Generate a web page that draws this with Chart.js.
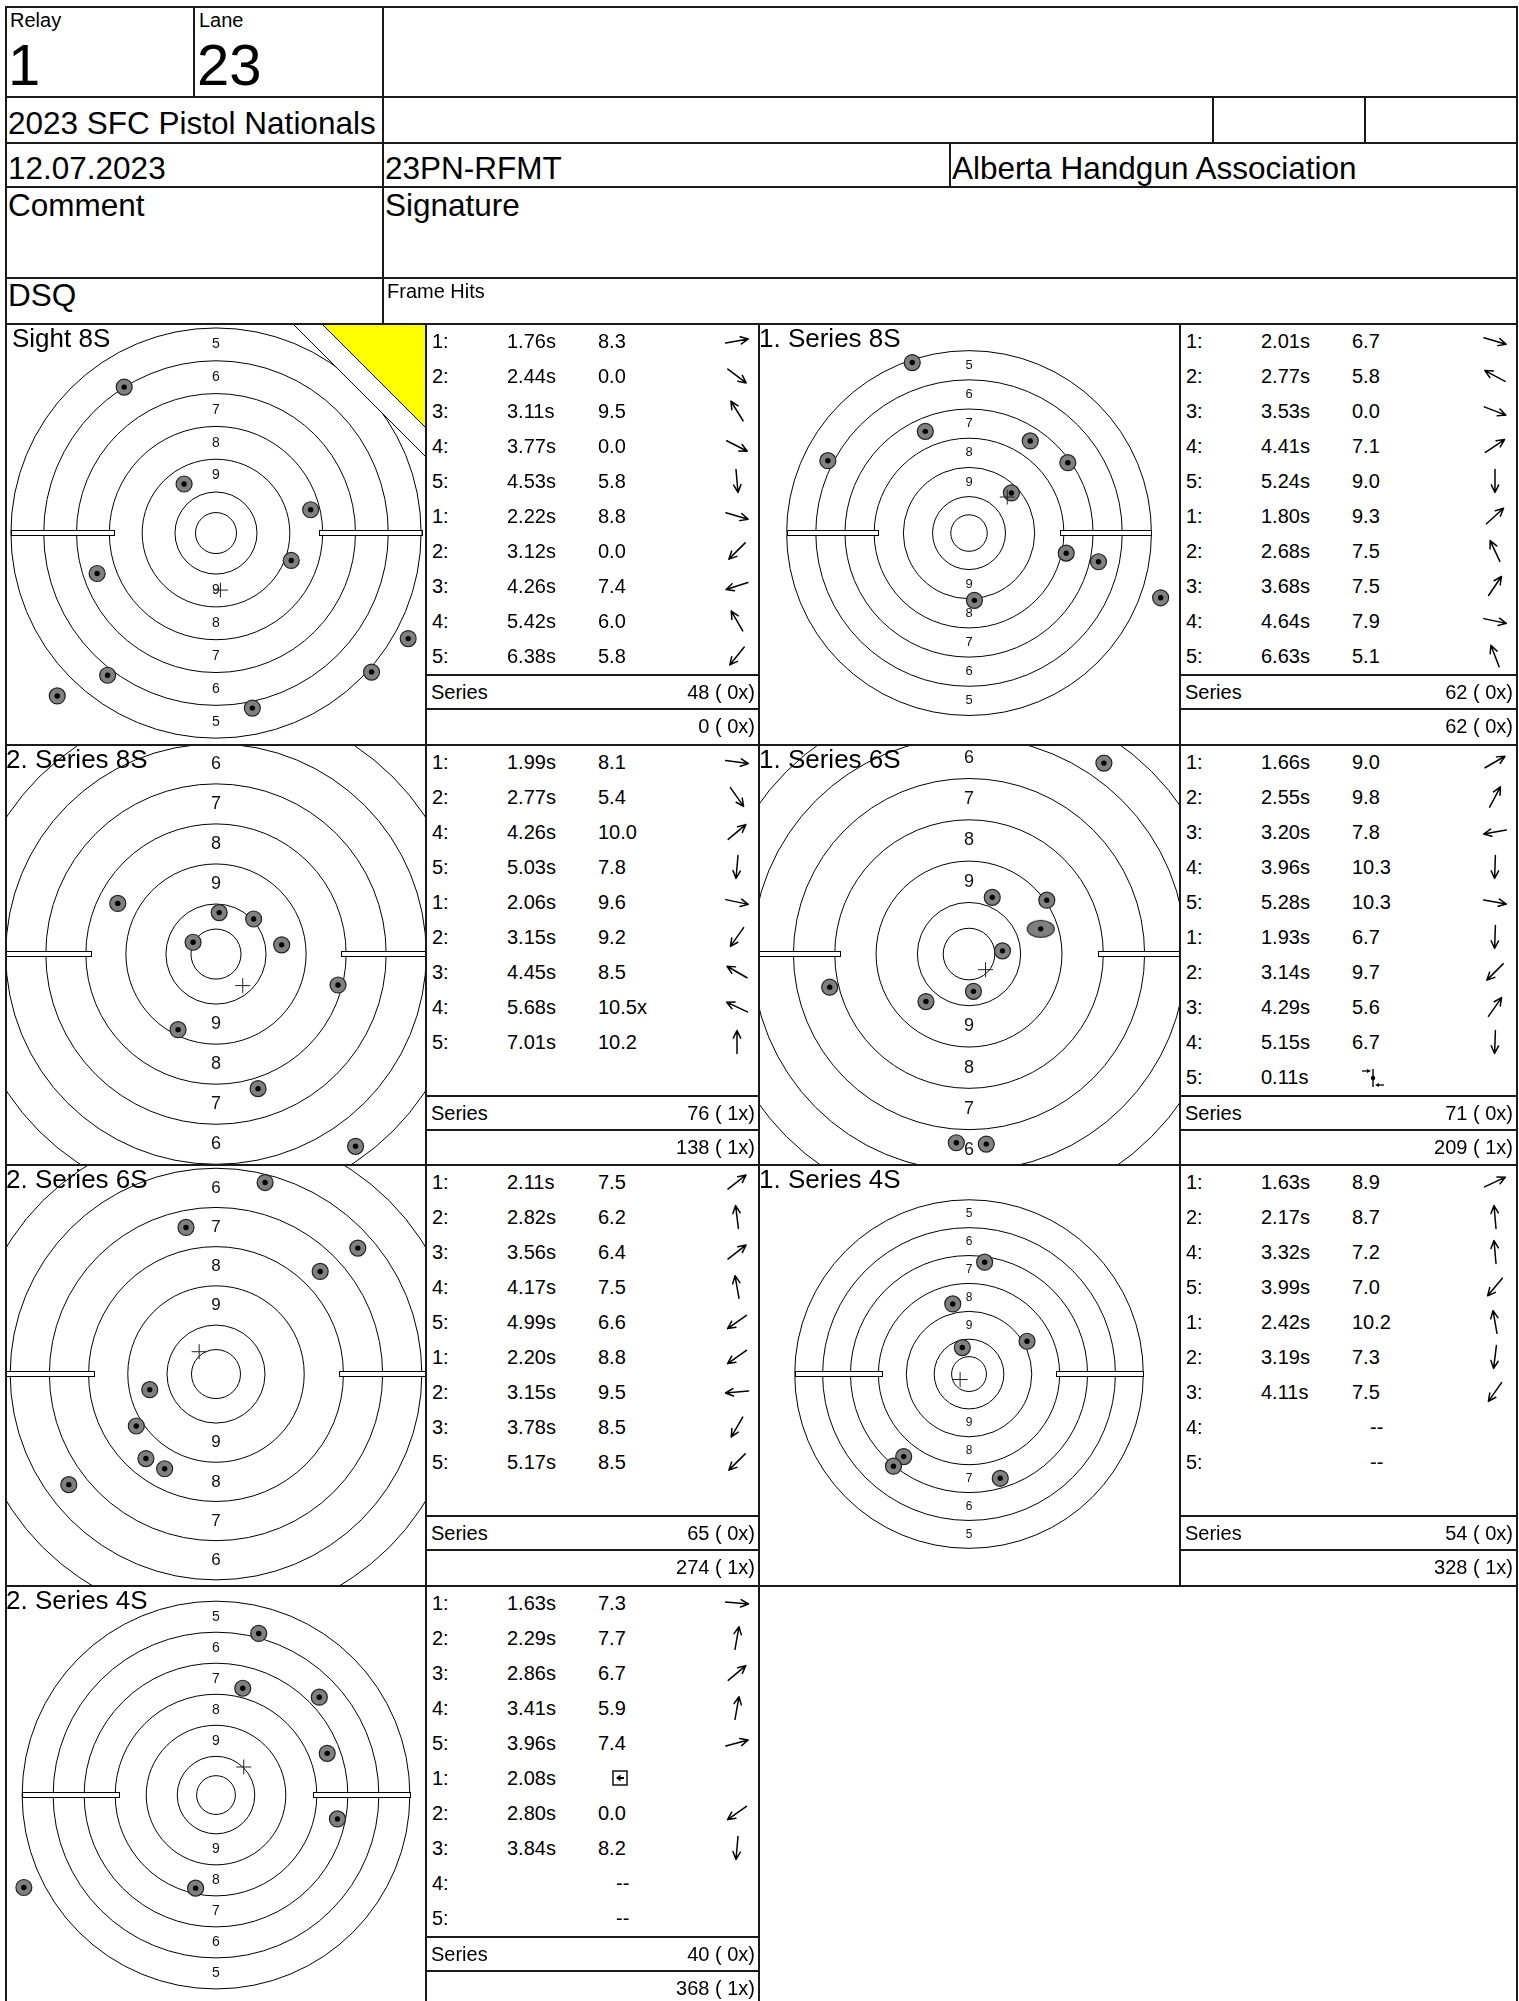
<!DOCTYPE html>
<html>
<head>
<meta charset="utf-8">
<script src="https://cdn.jsdelivr.net/npm/chart.js@4.4.0/dist/chart.umd.min.js"></script>
<style>
  body { margin: 0; background: #fff; }
  #page { position: relative; width: 1519px; height: 2001px; overflow: hidden;
          font-family: "Liberation Sans", Arial, sans-serif; color: #000; }
  .t { position: absolute; white-space: pre; z-index: 3; }
  .ln { position: absolute; background: #1a1a1a; z-index: 2; }
  canvas.tg { position: absolute; z-index: 1; }
  svg.ic { position: absolute; z-index: 3; overflow: visible; }
</style>
</head>
<body>
<div id="page"></div>
<script>
// scorecard.js

/********** Data **********/
// ring radii of the target face in mm (inner ten, 10, 9 ... 5)
const ringRadii = [25, 50, 90, 130, 170, 210, 250];
const ringLabels = ['9', '8', '7', '6', '5'];
const ringLabelRadii = [70, 110, 150, 190, 230];
const barInner = 125;
const barOuter = 250;

const targetTitles = ['Sight 8S', '1. Series 8S', '2. Series 8S', '1. Series 6S', '2. Series 6S', '1. Series 4S', '2. Series 4S'];
const targetZoom = [0.858, 0.763, 1.047, 1.08, 1.025, 0.729, 0.811]; // px per mm

// shot positions, mm from centre (x right, y up)
const shotsSight8 = [[-111.9, 177.9], [-38.9, 59.8], [115.4, 28.4], [91.7, -33.4], [-144.9, -49.3],
  [-132.1, -173.3], [-193.5, -198.5], [44.3, -213.3], [189.6, -169.4], [234.3, -128.6]];
const centerSight8 = [5.4, -69.5];

const shots1S8 = [[-77.8, 233.7], [-59.9, 139.4], [83.9, 126.3], [135.4, 96.5], [-193.5, 99.2],
  [58.1, 55.0], [133.2, -27.5], [177.4, -39.3], [7.4, -92.2], [262.6, -88.7]];
const center1S8 = [52.4, 49.4];

const shots2S8 = [[-98.1, 50.6], [3.2, 41.4], [37.6, 35.0], [-22.9, 11.8], [65.6, 9.2],
  [121.9, -30.9], [-37.9, -75.5], [42.0, -134.4], [139.4, -192.0]];
const center2S8 = [26.7, -31.5];

const shots1S6 = [[130.6, 184.9], [22.5, 54.9], [75.3, 52.2], [69.4, 24.4], [32.4, 3.1],
  [-134.9, -32.1], [4.3, -36.1], [-41.7, -46.0], [-12.3, -182.7], [16.7, -184.0]];
const center1S6 = [16.0, -15.1];
const elongated1S6 = [3]; // torn (oval) hole

const shots2S6 = [[50.1, 195.4], [-30.6, 149.6], [144.7, 128.5], [106.3, 104.7], [-67.6, -15.9],
  [-81.3, -53.0], [-71.5, -86.2], [-52.4, -96.6], [-150.2, -112.8]];
const center2S6 = [-17.2, 22.8];

const shots1S4 = [[22.4, 160.5], [-23.3, 100.6], [83.2, 47.1], [-9.6, 38.0], [-93.7, -118.4],
  [-108.4, -132.1], [44.8, -149.5]];
const center1S4 = [-12.8, -7.8];

const shots2S4 = [[55.1, 208.4], [34.5, 137.7], [133.2, 126.2], [143.4, 53.8], [156.6, -30.8],
  [-26.3, -120.0], [-247.8, -119.2]];
const center2S4 = [35.8, 36.2];

// table rows: shot no, time, score, direction of arrow (degrees, 0 = right)
const rowsSight8 = [
  ['1:', '1.76s', '8.3', 10], ['2:', '2.44s', '0.0', -37], ['3:', '3.11s', '9.5', 122],
  ['4:', '3.77s', '0.0', -27], ['5:', '4.53s', '5.8', -85], ['1:', '2.22s', '8.8', -16],
  ['2:', '3.12s', '0.0', 225], ['3:', '4.26s', '7.4', 198], ['4:', '5.42s', '6.0', 120],
  ['5:', '6.38s', '5.8', 231]
];
const rows1S8 = [
  ['1:', '2.01s', '6.7', -16], ['2:', '2.77s', '5.8', 152], ['3:', '3.53s', '0.0', -21],
  ['4:', '4.41s', '7.1', 34], ['5:', '5.24s', '9.0', -90], ['1:', '1.80s', '9.3', 42],
  ['2:', '2.68s', '7.5', 115], ['3:', '3.68s', '7.5', 56], ['4:', '4.64s', '7.9', -12],
  ['5:', '6.63s', '5.1', 111]
];
const rows2S8 = [
  ['1:', '1.99s', '8.1', -8], ['2:', '2.77s', '5.4', -55], ['4:', '4.26s', '10.0', 40],
  ['5:', '5.03s', '7.8', -95], ['1:', '2.06s', '9.6', -12], ['2:', '3.15s', '9.2', 235],
  ['3:', '4.45s', '8.5', 150], ['4:', '5.68s', '10.5x', 155], ['5:', '7.01s', '10.2', 90]
];
const rows1S6 = [
  ['1:', '1.66s', '9.0', 30], ['2:', '2.55s', '9.8', 62], ['3:', '3.20s', '7.8', 190],
  ['4:', '3.96s', '10.3', -92], ['5:', '5.28s', '10.3', -10], ['1:', '1.93s', '6.7', -92],
  ['2:', '3.14s', '9.7', 225], ['3:', '4.29s', '5.6', 55], ['4:', '5.15s', '6.7', -92],
  ['5:', '0.11s', '#split', null]
];
const rows2S6 = [
  ['1:', '2.11s', '7.5', 38], ['2:', '2.82s', '6.2', 97], ['3:', '3.56s', '6.4', 38],
  ['4:', '4.17s', '7.5', 100], ['5:', '4.99s', '6.6', 215], ['1:', '2.20s', '8.8', 215],
  ['2:', '3.15s', '9.5', 185], ['3:', '3.78s', '8.5', 240], ['5:', '5.17s', '8.5', 225]
];
const rows1S4 = [
  ['1:', '1.63s', '8.9', 25], ['2:', '2.17s', '8.7', 95], ['4:', '3.32s', '7.2', 95],
  ['5:', '3.99s', '7.0', 230], ['1:', '2.42s', '10.2', 100], ['2:', '3.19s', '7.3', -97],
  ['3:', '4.11s', '7.5', 235], ['4:', '', '--', null], ['5:', '', '--', null]
];
const rows2S4 = [
  ['1:', '1.63s', '7.3', -5], ['2:', '2.29s', '7.7', 80], ['3:', '2.86s', '6.7', 40],
  ['4:', '3.41s', '5.9', 80], ['5:', '3.96s', '7.4', 15], ['1:', '2.08s', '#box', null],
  ['2:', '2.80s', '0.0', 215], ['3:', '3.84s', '8.2', -95], ['4:', '', '--', null],
  ['5:', '', '--', null]
];

const seriesTotals = ['48 ( 0x)', '62 ( 0x)', '76 ( 1x)', '71 ( 0x)', '65 ( 0x)', '54 ( 0x)', '40 ( 0x)'];
const runningTotals = ['0 ( 0x)', '62 ( 0x)', '138 ( 1x)', '209 ( 1x)', '274 ( 1x)', '328 ( 1x)', '368 ( 1x)'];

/********** Helpers **********/
const page = document.getElementById('page');
const FONT = '"Liberation Sans", Arial, sans-serif';

function text(x, base, size, str, align) {
  const d = document.createElement('div');
  d.className = 't';
  d.style.fontSize = size + 'px';
  d.style.lineHeight = size + 'px';
  d.style.top = (base - 0.8465 * size) + 'px';
  if (align === 'right') d.style.right = (1519 - x) + 'px';
  else d.style.left = x + 'px';
  d.textContent = str;
  page.appendChild(d);
}

function box(x, y, w, h) {
  const d = document.createElement('div');
  d.className = 'ln';
  d.style.left = x + 'px'; d.style.top = y + 'px';
  d.style.width = w + 'px'; d.style.height = h + 'px';
  page.appendChild(d);
}
const hl = (x1, x2, y, t = 2) => box(x1 - 1, y - t / 2, x2 - x1 + 2, t);
const vl = (x, y1, y2, t = 2) => box(x - t / 2, y1 - 1, t, y2 - y1 + 2);

function svgAt(cx, cy, w, h, inner) {
  const ns = 'http://www.w3.org/2000/svg';
  const s = document.createElementNS(ns, 'svg');
  s.setAttribute('class', 'ic');
  s.setAttribute('width', w); s.setAttribute('height', h);
  s.style.left = (cx - w / 2) + 'px'; s.style.top = (cy - h / 2) + 'px';
  s.innerHTML = inner;
  page.appendChild(s);
}

function arrow(cx, cy, deg) {
  const a = deg * Math.PI / 180, L = 11.5, hd = 8.5, sp = 0.45;
  const c = 13;
  const hx = c + L * Math.cos(a), hy = c - L * Math.sin(a);
  const tx = c - L * Math.cos(a), ty = c + L * Math.sin(a);
  const p1 = [hx + hd * Math.cos(a + Math.PI - sp), hy - hd * Math.sin(a + Math.PI - sp)];
  const p2 = [hx + hd * Math.cos(a + Math.PI + sp), hy - hd * Math.sin(a + Math.PI + sp)];
  svgAt(cx, cy, 26, 26,
    `<path d="M${tx} ${ty}L${hx} ${hy}M${p1[0]} ${p1[1]}L${hx} ${hy}L${p2[0]} ${p2[1]}" stroke="#000" stroke-width="1.5" fill="none" stroke-linecap="round" stroke-linejoin="round"/>`);
}

function splitIcon(cx, cy) {
  svgAt(cx, cy, 26, 20,
    '<path d="M13 1V19" stroke="#000" stroke-width="1.4"/>' +
    '<circle cx="13" cy="10" r="2.2" fill="#000"/>' +
    '<path d="M2 3H8" stroke="#000" stroke-width="1.3"/><path d="M11 3L7 1L7 5Z" fill="#000"/>' +
    '<path d="M24 17H18" stroke="#000" stroke-width="1.3"/><path d="M15 17L19 15L19 19Z" fill="#000"/>');
}

function boxIcon(cx, cy) {
  svgAt(cx, cy, 16, 16,
    '<rect x="1" y="1" width="14" height="14" fill="none" stroke="#000" stroke-width="1.4"/>' +
    '<path d="M4 8L8.5 4.5V11.5Z" fill="#000"/><path d="M8 8H12" stroke="#000" stroke-width="2"/>');
}

function ovalImage() {
  const c = document.createElement('canvas');
  c.width = 30; c.height = 20;
  const g = c.getContext('2d');
  g.beginPath();
  g.ellipse(15, 10, 13.5, 8.5, 0, 0, Math.PI * 2);
  g.fillStyle = '#808080'; g.fill();
  g.strokeStyle = '#222'; g.lineWidth = 1.2; g.stroke();
  return c;
}

/********** Target face plugin **********/
const targetFace = {
  id: 'targetFace',
  beforeDatasetsDraw(chart) {
    const { ctx, scales: { x, y } } = chart;
    const o = chart.options.plugins.targetFace;
    const cx = x.getPixelForValue(0), cy = y.getPixelForValue(0);
    const k = x.getPixelForValue(1) - cx;
    ctx.save();
    ctx.strokeStyle = '#000';
    ctx.lineWidth = 1;
    ringRadii.forEach(r => {
      ctx.beginPath();
      ctx.arc(cx, cy, r * k, 0, Math.PI * 2);
      ctx.stroke();
    });
    // side bars
    [[-barOuter, -barInner], [barInner, barOuter]].forEach(([a, b]) => {
      const x0 = x.getPixelForValue(a), x1 = x.getPixelForValue(b);
      ctx.fillStyle = '#fff';
      ctx.fillRect(x0, cy - 2.5, x1 - x0, 5);
      ctx.strokeRect(Math.round(x0) + 0.5, Math.round(cy - 3) + 0.5, Math.round(x1 - x0), 5);
    });
    // ring numbers
    ctx.fillStyle = '#111';
    ctx.font = Math.round(17.5 * k) + 'px ' + FONT;
    ctx.textAlign = 'center';
    ctx.textBaseline = 'middle';
    ringLabels.forEach((lab, i) => {
      const d = ringLabelRadii[i];
      ctx.fillText(lab, cx, y.getPixelForValue(d));
      ctx.fillText(lab, cx, y.getPixelForValue(-d));
    });
    // sighter corner
    if (o.sighter) {
      const W = chart.width;
      ctx.fillStyle = '#fff';
      ctx.beginPath();
      ctx.moveTo(W - 133, 0); ctx.lineTo(W, 0); ctx.lineTo(W, 133); ctx.closePath();
      ctx.fill();
      ctx.beginPath();
      ctx.moveTo(W - 133, 0); ctx.lineTo(W, 133); ctx.stroke();
      ctx.fillStyle = '#ffff00';
      ctx.beginPath();
      ctx.moveTo(W - 104, 0); ctx.lineTo(W, 0); ctx.lineTo(W, 104); ctx.closePath();
      ctx.fill();
      ctx.beginPath();
      ctx.moveTo(W - 104, 0); ctx.lineTo(W, 104); ctx.stroke();
    }
    ctx.restore();
  }
};

/********** Layout **********/
const panelTops = [324, 745, 1165, 1586];
const targetLeft = [6, 759];
const tableLeft = [426, 1180];
const tableRight = [759, 1517];

const panels = [
  { shots: shotsSight8, center: centerSight8, rows: rowsSight8, sighter: true, inset: 6 },
  { shots: shots1S8, center: center1S8, rows: rows1S8 },
  { shots: shots2S8, center: center2S8, rows: rows2S8 },
  { shots: shots1S6, center: center1S6, rows: rows1S6, oval: elongated1S6 },
  { shots: shots2S6, center: center2S6, rows: rows2S6 },
  { shots: shots1S4, center: center1S4, rows: rows1S4 },
  { shots: shots2S4, center: center2S4, rows: rows2S4 }
];

// header grid
hl(6, 1517, 7); hl(6, 1517, 97); hl(6, 1517, 143); hl(6, 1517, 187); hl(6, 1517, 278);
vl(6, 7, 2001); vl(1517, 7, 2001);
vl(194, 7, 97); vl(383, 7, 97); vl(383, 97, 143); vl(1213, 97, 143); vl(1365, 97, 143);
vl(383, 143, 187); vl(950, 143, 187); vl(383, 187, 278); vl(383, 278, 324);

text(10, 27, 20, 'Relay');
text(199, 27, 20, 'Lane');
text(8, 85, 58, '1');
text(197, 85, 58, '23');
text(8, 135, 31.5, '2023 SFC Pistol Nationals');
text(8, 180, 31.5, '12.07.2023');
text(385, 180, 31.5, '23PN-RFMT');
text(952, 180, 31.5, 'Alberta Handgun Association');
text(8, 217, 31.5, 'Comment');
text(385, 217, 31.5, 'Signature');
text(8, 307, 31.5, 'DSQ');
text(387, 298, 20, 'Frame Hits');

// panel grid
panelTops.forEach(t => hl(6, 1517, t));
vl(426, 324, 2001); vl(759, 324, 2001); vl(1180, 324, 1586);

const ovalImg = ovalImage();

panels.forEach((p, i) => {
  const col = i % 2, row = Math.floor(i / 2);
  const top = panelTops[row];
  const k = targetZoom[i];
  const W = col === 0 ? 420 : 421, H = 421;
  const ox = 210, oy = 209;

  const cv = document.createElement('canvas');
  cv.className = 'tg';
  cv.width = W; cv.height = H;
  cv.style.left = targetLeft[col] + 'px';
  cv.style.top = top + 'px';
  page.appendChild(cv);

  const pts = p.shots.map(([x, y]) => ({ x, y }));
  const ovals = new Set(p.oval || []);
  new Chart(cv.getContext('2d'), {
    type: 'scatter',
    data: {
      datasets: [
        { data: [{ x: p.center[0], y: p.center[1] }], order: 0,
          pointStyle: 'cross', pointRadius: 7.5, pointBorderColor: '#222', pointBorderWidth: 1 },
        { data: pts, order: 1, pointStyle: 'circle', pointRadius: 2.7,
          pointBackgroundColor: '#000', pointBorderWidth: 0 },
        { data: pts, order: 2,
          pointStyle: c => ovals.has(c.dataIndex) ? ovalImg : 'circle',
          pointRadius: 8, pointBackgroundColor: '#808080',
          pointBorderColor: '#222', pointBorderWidth: 1.2 }
      ]
    },
    options: {
      responsive: false,
      animation: false,
      events: [],
      layout: { padding: 0 },
      scales: {
        x: { type: 'linear', min: -ox / k, max: (W - ox) / k, display: false },
        y: { type: 'linear', min: -(H - oy) / k, max: oy / k, display: false }
      },
      plugins: {
        legend: { display: false },
        tooltip: { enabled: false },
        targetFace: { sighter: !!p.sighter }
      }
    },
    plugins: [targetFace]
  });

  // title
  text(targetLeft[col] + (p.inset || 0), top + 23, 26, targetTitles[i]);

  // shot table
  const x0 = tableLeft[col], x1 = tableRight[col];
  p.rows.forEach((r, j) => {
    const base = top + 24 + 35 * j;
    text(x0 + 6, base, 20, r[0]);
    if (r[1]) text(x0 + 81, base, 20, r[1]);
    if (r[2] === '#split') splitIcon(x0 + 193, base - 6);
    else if (r[2] === '#box') boxIcon(x0 + 194, base - 7);
    else if (r[2] === '--') text(x0 + 190, base, 20, r[2]);
    else text(x0 + 172, base, 20, r[2]);
    if (r[3] !== null) arrow(x1 - 22, base - 7, r[3]);
  });
  hl(x0, x1, top + 351, 1.5);
  hl(x0, x1, top + 385, 1.5);
  text(x0 + 5, top + 375, 20, 'Series');
  text(x1 - 4, top + 375, 20, seriesTotals[i], 'right');
  text(x1 - 4, top + 409, 20, runningTotals[i], 'right');
});
</script>
</body>
</html>
